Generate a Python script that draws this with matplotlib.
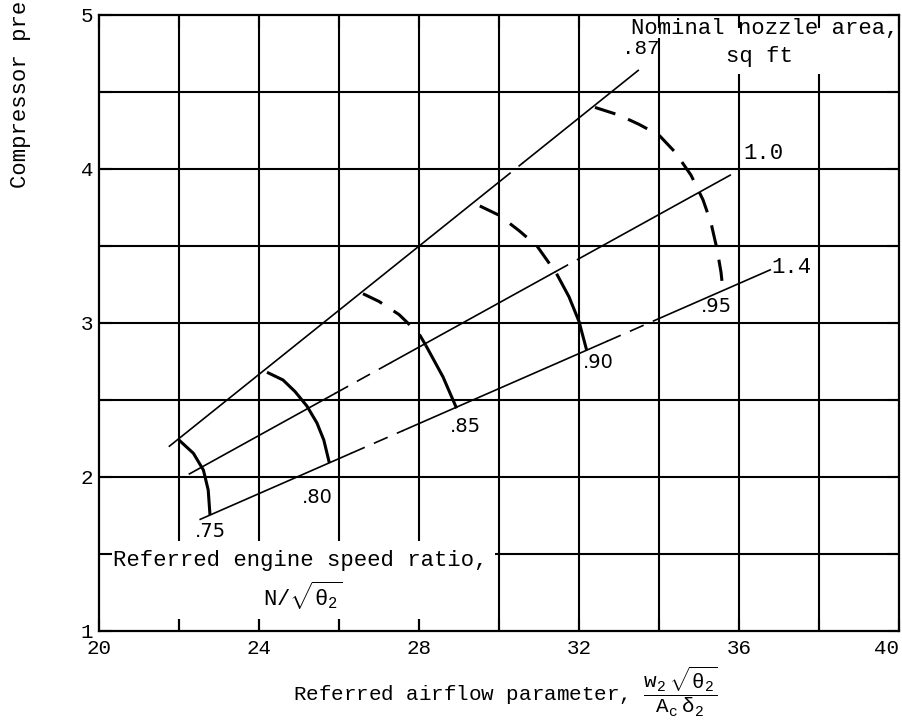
import numpy as np
import matplotlib.pyplot as plt
from matplotlib.patches import Rectangle

plt.rcParams['font.family'] = ['Liberation Mono', 'DejaVu Sans Mono']
plt.rcParams['mathtext.fontset'] = 'custom'
plt.rcParams['mathtext.rm'] = 'Liberation Mono'
plt.rcParams['mathtext.it'] = 'Liberation Mono'

# Nominal nozzle area lines (straight, end points) and their dashed stretches
nozzle_area = ['.87', '1.0', '1.4']
nozzle_x = [[21.76, 33.48], [22.26, 35.78], [22.53, 36.78]]
nozzle_y = [[2.20, 4.64], [2.02, 3.96], [1.725, 3.345]]
nozzle_dashed = [[(30.0, 30.6)],
                 [(25.9, 27.3), (31.4, 32.0)],
                 [(26.3, 27.6), (32.7, 34.0)]]

# Referred engine speed ratio curves; points before split index are dashed
speed_ratio = ['.75', '.80', '.85', '.90', '.95']
speed_x = [[22.0, 22.36, 22.61, 22.73, 22.775],
           [24.2, 24.6, 24.9, 25.2, 25.45, 25.62, 25.76],
           [26.6, 27.0, 27.5, 28.0, 28.17, 28.6, 28.94],
           [29.52, 30.0, 30.5, 30.95, 31.44, 31.75, 32.0, 32.19],
           [32.4, 33.0, 33.5, 34.0, 34.4, 34.8, 35.1, 35.3, 35.45, 35.55, 35.6]]
speed_y = [[2.24, 2.154, 2.045, 1.916, 1.753],
           [2.68, 2.63, 2.555, 2.46, 2.35, 2.24, 2.09],
           [3.19, 3.14, 3.055, 2.93, 2.855, 2.65, 2.446],
           [3.76, 3.70, 3.60, 3.50, 3.32, 3.17, 3.01, 2.825],
           [4.40, 4.35, 4.29, 4.22, 4.11, 3.96, 3.80, 3.65, 3.48, 3.33, 3.21]]
speed_split = [0, 0, 4, 4, 11]

speed_label_x = [22.78, 25.46, 29.15, 32.48, 35.44]
speed_label_y = [1.646, 1.867, 2.327, 2.744, 3.106]
nozzle_label_x = [33.55, 36.1, 36.8]
nozzle_label_y = [4.78, 4.10, 3.36]

fig = plt.figure(figsize=(9.02, 7.28), dpi=100)
ax = fig.add_axes([99 / 902, 97 / 728, 800 / 902, 616 / 728])
ax.set_xlim(20, 40)
ax.set_ylim(1, 5)

# grid
for gx in np.arange(22, 40, 2):
    ax.axvline(gx, color='black', lw=1.5, zorder=1)
for gy in np.arange(1.5, 5, 0.5):
    ax.axhline(gy, color='black', lw=1.5, zorder=1)

# blank areas behind the notes
ax.add_patch(Rectangle((20.02, 1.08), 9.88, 0.505, facecolor='white',
                       edgecolor='none', zorder=1.5))
ax.add_patch(Rectangle((33.1, 4.85), 6.88, 0.14, facecolor='white',
                       edgecolor='none', zorder=1.5))
ax.add_patch(Rectangle((34.1, 4.617), 5.88, 0.24, facecolor='white',
                       edgecolor='none', zorder=1.5))

# nozzle area lines
for xs, ys, dashed in zip(nozzle_x, nozzle_y, nozzle_dashed):
    cuts = [xs[0]]
    for a, b in dashed:
        cuts += [a, b]
    cuts.append(xs[1])
    for i in range(len(cuts) - 1):
        seg_x = np.array([cuts[i], cuts[i + 1]])
        seg_y = np.interp(seg_x, xs, ys)
        if i % 2 == 0:
            ax.plot(seg_x, seg_y, color='black', lw=1.2, zorder=3)
        else:
            ax.plot(seg_x, seg_y, color='black', lw=1.2, zorder=3,
                    dashes=(9, 6))

# speed ratio curves
for xs, ys, k in zip(speed_x, speed_y, speed_split):
    if k > 0:
        ax.plot(xs[:k + 1], ys[:k + 1], color='black', lw=2.2, zorder=3,
                dashes=(7, 4.5))
    if k < len(xs) - 1:
        ax.plot(xs[k:], ys[k:], color='black', lw=2.2, zorder=3,
                solid_capstyle='butt')

for lab, lx, ly in zip(speed_ratio, speed_label_x, speed_label_y):
    ax.text(lx, ly, lab, ha='center', va='center', fontsize=14,
            family='DejaVu Sans', zorder=4)

ax.text(nozzle_label_x[0], nozzle_label_y[0], nozzle_area[0], ha='center',
        va='center', fontsize=15, zorder=4)
for lab, lx, ly in zip(nozzle_area[1:], nozzle_label_x[1:], nozzle_label_y[1:]):
    ax.text(lx, ly, lab, ha='left', va='center', fontsize=16, zorder=4)

ax.text(36.65, 4.915, 'Nominal nozzle area,', ha='center', va='center',
        fontsize=16, zorder=4)
ax.text(36.5, 4.73, 'sq ft', ha='center', va='center', fontsize=16, zorder=4)

ax.text(20.35, 1.46, 'Referred engine speed ratio,', ha='left', va='center',
        fontsize=16, zorder=4)
ax.text(25.1, 1.23, r'N/$\sqrt{\theta_2}$', ha='center', va='center',
        fontsize=16, zorder=4)

# axes styling
ax.set_xticks(np.arange(20, 41, 4))
ax.set_xticks(np.arange(22, 40, 4), minor=True)
ax.set_yticks(np.arange(1, 6, 1))
ax.set_yticks(np.arange(1.5, 5, 1), minor=True)
ax.tick_params(which='both', direction='in', length=9, width=1.5,
               top=True, right=True, labelsize=15, colors='black')
ax.tick_params(axis='x', pad=6)
ax.tick_params(axis='y', pad=4)
ax.get_xticklabels()[-1].set_horizontalalignment('right')
for s in ax.spines.values():
    s.set_linewidth(1.6)
    s.set_zorder(5)

fig.text(0.56, 0.05,
         r'Referred airflow parameter, $\dfrac{w_2\ \sqrt{\theta_2}}{A_c\ \delta_2}$',
         ha='center', va='center', fontsize=15)
fig.text(21 / 902, 1 - 188 / 728, 'Compressor pressure ratio', rotation=90,
         ha='center', va='bottom', fontsize=16)

fig.savefig('out.png', dpi=100)
